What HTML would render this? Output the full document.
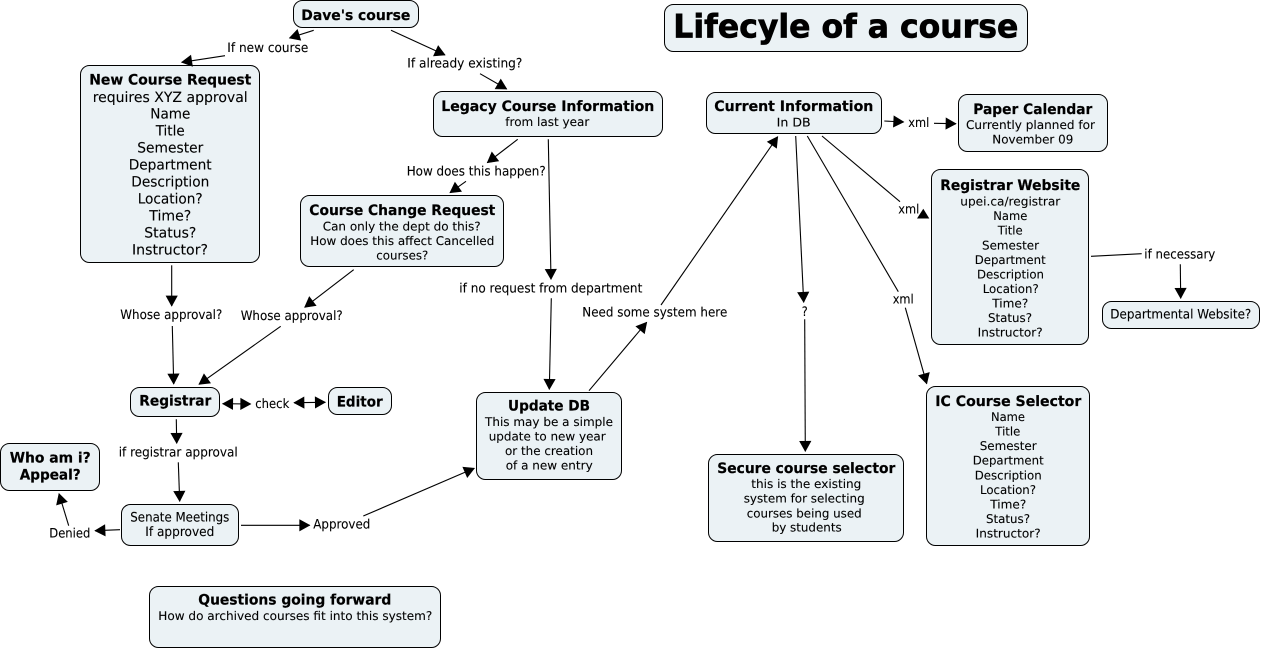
<!DOCTYPE html>
<html>
<head>
<meta charset="utf-8">
<title>Lifecyle of a course</title>
<style>
html,body{margin:0;padding:0;background:#fff;width:1262px;height:650px;overflow:hidden}
svg{display:block}
text{font-family:"DejaVu Sans","Liberation Sans",sans-serif;fill:#000;text-rendering:geometricPrecision}
.h{font-size:14.4px;font-weight:bold;fill:#000;stroke:#000;stroke-width:.2px}
.b{font-size:14.2px;stroke:#000;stroke-width:.1px}
.s{font-size:12px;stroke:#000;stroke-width:.1px}
.l{font-size:13px;stroke:#000;stroke-width:.1px}
rect{fill:#ebf2f5;stroke:#000;stroke-width:1}
line{stroke:#000;stroke-width:1.1;fill:none}
</style>
</head>
<body>
<svg width="1262" height="650" viewBox="0 0 1262 650" xmlns="http://www.w3.org/2000/svg">
<defs>
<marker id="a" markerUnits="userSpaceOnUse" markerWidth="14" markerHeight="14" refX="11" refY="6.5" orient="auto-start-reverse"><path d="M1 1L11 6.5L1 12Z" fill="#000" stroke="#000" stroke-width=".7" stroke-linejoin="miter"/></marker>
</defs>

<g>
<rect x="293.5" y="0.5" width="125" height="27" rx="9"/>
<rect x="80.5" y="65.5" width="179" height="197" rx="9"/>
<rect x="300.5" y="195.5" width="203" height="71" rx="9"/>
<rect x="433.5" y="91.5" width="229" height="45" rx="9"/>
<rect x="664.5" y="4.5" width="363" height="47" rx="9"/>
<rect x="706.5" y="92.5" width="175" height="41" rx="9"/>
<rect x="958.5" y="94.5" width="149" height="57" rx="9"/>
<rect x="931.5" y="169.5" width="157" height="175" rx="9"/>
<rect x="1102.5" y="301.5" width="157" height="27" rx="9"/>
<rect x="130.5" y="387.5" width="89" height="29" rx="9"/>
<rect x="328.5" y="387.5" width="63" height="27" rx="9"/>
<rect x="0.5" y="443.5" width="99" height="47" rx="9"/>
<rect x="121.5" y="504.5" width="117" height="41" rx="9"/>
<rect x="149.5" y="586.5" width="291" height="61" rx="9"/>
<rect x="476.5" y="392.5" width="145" height="87" rx="9"/>
<rect x="708.5" y="454.5" width="195" height="87" rx="9"/>
<rect x="926.5" y="386.5" width="163" height="159" rx="9"/>
</g>

<g marker-end="url(#a)">
<line x1="313.7" y1="30.3" x2="289.5" y2="38"/>
<line x1="225" y1="55.7" x2="181.7" y2="62.3"/>
<line x1="391" y1="30.3" x2="445" y2="55"/>
<line x1="480" y1="73.7" x2="506.7" y2="89"/>
<line x1="517.7" y1="139.3" x2="487.3" y2="162.7"/>
<line x1="466" y1="181.3" x2="450" y2="192.7"/>
<line x1="548.3" y1="139.3" x2="551" y2="279.3"/>
<line x1="551.3" y1="298.3" x2="549.3" y2="389.3"/>
<line x1="589" y1="390.7" x2="646.7" y2="322.3"/>
<line x1="661" y1="305" x2="777.7" y2="136.7"/>
<line x1="795.7" y1="136" x2="803.7" y2="302.3"/>
<line x1="804.7" y1="319.3" x2="805.3" y2="451.3"/>
<line x1="905.3" y1="307.7" x2="926.7" y2="383.7"/>
<line x1="884.3" y1="121" x2="903.7" y2="122"/>
<line x1="934" y1="123.3" x2="956" y2="123.7"/>
<line x1="1180.3" y1="264.3" x2="1180.7" y2="298.3"/>
<line x1="171.7" y1="265.3" x2="171.7" y2="306"/>
<line x1="172.3" y1="326" x2="173.7" y2="384"/>
<line x1="353.7" y1="269.7" x2="304.7" y2="307.3"/>
<line x1="280.7" y1="326.3" x2="199" y2="384.3"/>
<line x1="176.3" y1="419.3" x2="176.7" y2="443.3"/>
<line x1="178.3" y1="462.3" x2="179.7" y2="501.3"/>
<line x1="120" y1="529.7" x2="95" y2="530.7"/>
<line x1="68.7" y1="525.7" x2="59" y2="493.7"/>
<line x1="241" y1="525.3" x2="309.7" y2="525.3"/>
<line x1="363.3" y1="516" x2="474.3" y2="468.3"/>
</g>
<line x1="222.7" y1="403.7" x2="250.7" y2="404" marker-start="url(#a)" marker-end="url(#a)"/>
<line x1="294" y1="402.7" x2="325.3" y2="402.3" marker-start="url(#a)" marker-end="url(#a)"/>
<line x1="807.3" y1="136" x2="898.3" y2="291.7"/>
<line x1="822" y1="136" x2="900" y2="201.7"/>
<line x1="1091" y1="256.3" x2="1141.7" y2="253.7"/>
<polygon points="923.3,208.8 917,218.5 929.3,218.5" fill="#000"/>

<g>
<text class="h" x="301.3" y="20" textLength="109" lengthAdjust="spacingAndGlyphs">Dave's course</text>
<text class="l" x="227.3" y="52" textLength="81" lengthAdjust="spacingAndGlyphs">If new course</text>
<text class="l" x="407.3" y="67.5" textLength="115" lengthAdjust="spacingAndGlyphs">If already existing?</text>

<text class="h" x="89.3" y="84.5" textLength="162" lengthAdjust="spacingAndGlyphs">New Course Request</text>
<text class="b" x="92.7" y="102" textLength="155" lengthAdjust="spacingAndGlyphs">requires XYZ approval</text>
<text class="b" x="150.3" y="118.7" textLength="40" lengthAdjust="spacingAndGlyphs">Name</text>
<text class="b" x="155.7" y="135.7" textLength="29" lengthAdjust="spacingAndGlyphs">Title</text>
<text class="b" x="137.3" y="152.7" textLength="66" lengthAdjust="spacingAndGlyphs">Semester</text>
<text class="b" x="128.7" y="169.7" textLength="83" lengthAdjust="spacingAndGlyphs">Department</text>
<text class="b" x="131.3" y="186.7" textLength="78" lengthAdjust="spacingAndGlyphs">Description</text>
<text class="b" x="137.7" y="203.7" textLength="65" lengthAdjust="spacingAndGlyphs">Location?</text>
<text class="b" x="149.3" y="220.7" textLength="42" lengthAdjust="spacingAndGlyphs">Time?</text>
<text class="b" x="144.3" y="237.7" textLength="52" lengthAdjust="spacingAndGlyphs">Status?</text>
<text class="b" x="132" y="254.7" textLength="76" lengthAdjust="spacingAndGlyphs">Instructor?</text>

<text class="h" x="441.3" y="111" textLength="213" lengthAdjust="spacingAndGlyphs">Legacy Course Information</text>
<text class="s" x="505.3" y="126" textLength="84" lengthAdjust="spacingAndGlyphs">from last year</text>
<text class="l" x="406.7" y="175.5" textLength="139" lengthAdjust="spacingAndGlyphs">How does this happen?</text>

<text class="h" x="309.3" y="215" textLength="186" lengthAdjust="spacingAndGlyphs">Course Change Request</text>
<text class="s" x="322.7" y="230.3" textLength="158" lengthAdjust="spacingAndGlyphs">Can only the dept do this?</text>
<text class="s" x="310.3" y="245" textLength="184" lengthAdjust="spacingAndGlyphs">How does this affect Cancelled</text>
<text class="s" x="376.3" y="259.5" textLength="52" lengthAdjust="spacingAndGlyphs">courses?</text>

<text class="l" x="120.3" y="319" textLength="102" lengthAdjust="spacingAndGlyphs">Whose approval?</text>
<text class="l" x="240.7" y="320" textLength="102" lengthAdjust="spacingAndGlyphs">Whose approval?</text>

<text class="h" x="139.3" y="405.7" textLength="72" lengthAdjust="spacingAndGlyphs">Registrar</text>
<text class="h" x="336.7" y="406.7" textLength="46" lengthAdjust="spacingAndGlyphs">Editor</text>
<text class="l" x="255.3" y="408" textLength="34" lengthAdjust="spacingAndGlyphs">check</text>
<text class="l" x="118.7" y="456.5" textLength="119" lengthAdjust="spacingAndGlyphs">if registrar approval</text>
<text class="l" x="130.3" y="521.7" textLength="99" lengthAdjust="spacingAndGlyphs">Senate Meetings</text>
<text class="l" x="145.3" y="536" textLength="69" lengthAdjust="spacingAndGlyphs">If approved</text>
<text class="h" x="9.7" y="462.7" textLength="81" lengthAdjust="spacingAndGlyphs">Who am i?</text>
<text class="h" x="19.7" y="479.7" textLength="61" lengthAdjust="spacingAndGlyphs">Appeal?</text>
<text class="l" x="49.3" y="537.3" textLength="41" lengthAdjust="spacingAndGlyphs">Denied</text>
<text class="l" x="313.3" y="528.7" textLength="57" lengthAdjust="spacingAndGlyphs">Approved</text>

<text class="h" x="198.3" y="604.7" textLength="193" lengthAdjust="spacingAndGlyphs">Questions going forward</text>
<text class="s" x="158.3" y="620" textLength="274" lengthAdjust="spacingAndGlyphs">How do archived courses fit into this system?</text>

<text x="673.3" y="37.7" textLength="345" lengthAdjust="spacingAndGlyphs" style="font-size:32.5px;font-weight:bold;fill:#000;stroke:#000;stroke-width:.7px">Lifecyle of a course</text>

<text class="h" x="714.3" y="111" textLength="159" lengthAdjust="spacingAndGlyphs">Current Information</text>
<text class="s" x="776.7" y="126.3" textLength="34" lengthAdjust="spacingAndGlyphs">In DB</text>
<text class="l" x="459.3" y="292.3" textLength="183" lengthAdjust="spacingAndGlyphs">if no request from department</text>
<text class="l" x="582.3" y="316.7" textLength="145" lengthAdjust="spacingAndGlyphs">Need some system here</text>
<text class="l" x="801.7" y="316" textLength="6" lengthAdjust="spacingAndGlyphs">?</text>
<text class="l" x="908.3" y="127" textLength="21" lengthAdjust="spacingAndGlyphs">xml</text>

<text class="h" x="973.3" y="114" textLength="119" lengthAdjust="spacingAndGlyphs">Paper Calendar</text>
<text class="s" x="966" y="129" textLength="129" lengthAdjust="spacingAndGlyphs">Currently planned for</text>
<text class="s" x="992.3" y="143.3" textLength="81" lengthAdjust="spacingAndGlyphs">November 09</text>

<text class="h" x="940.3" y="190" textLength="140" lengthAdjust="spacingAndGlyphs">Registrar Website</text>
<text class="s" x="960.3" y="205.5" textLength="100" lengthAdjust="spacingAndGlyphs">upei.ca/registrar</text>
<text class="s" x="993.3" y="220" textLength="34" lengthAdjust="spacingAndGlyphs">Name</text>
<text class="s" x="997.7" y="234.7" textLength="25" lengthAdjust="spacingAndGlyphs">Title</text>
<text class="s" x="982" y="249.3" textLength="57" lengthAdjust="spacingAndGlyphs">Semester</text>
<text class="s" x="974.7" y="264" textLength="71" lengthAdjust="spacingAndGlyphs">Department</text>
<text class="s" x="977" y="278.7" textLength="67" lengthAdjust="spacingAndGlyphs">Description</text>
<text class="s" x="982.7" y="293" textLength="56" lengthAdjust="spacingAndGlyphs">Location?</text>
<text class="s" x="992.3" y="307.7" textLength="36" lengthAdjust="spacingAndGlyphs">Time?</text>
<text class="s" x="988" y="322" textLength="44" lengthAdjust="spacingAndGlyphs">Status?</text>
<text class="s" x="977.7" y="336.7" textLength="65" lengthAdjust="spacingAndGlyphs">Instructor?</text>

<text class="l" x="898.3" y="213.3" textLength="21" lengthAdjust="spacingAndGlyphs">xml</text>
<text class="l" x="892.7" y="303.3" textLength="21" lengthAdjust="spacingAndGlyphs">xml</text>
<text class="l" x="1144.3" y="258.3" textLength="71" lengthAdjust="spacingAndGlyphs">if necessary</text>
<text class="l" x="1110.3" y="318.3" textLength="141" lengthAdjust="spacingAndGlyphs">Departmental Website?</text>

<text class="h" x="508" y="410.7" textLength="82" lengthAdjust="spacingAndGlyphs">Update DB</text>
<text class="s" x="485" y="426" textLength="128" lengthAdjust="spacingAndGlyphs">This may be a simple</text>
<text class="s" x="488.7" y="440.7" textLength="117" lengthAdjust="spacingAndGlyphs">update to new year</text>
<text class="s" x="505" y="455" textLength="88" lengthAdjust="spacingAndGlyphs">or the creation</text>
<text class="s" x="505.7" y="469.7" textLength="87" lengthAdjust="spacingAndGlyphs">of a new entry</text>

<text class="h" x="717.3" y="473" textLength="178" lengthAdjust="spacingAndGlyphs">Secure course selector</text>
<text class="s" x="751.3" y="488" textLength="110" lengthAdjust="spacingAndGlyphs">this is the existing</text>
<text class="s" x="743.7" y="502.7" textLength="121" lengthAdjust="spacingAndGlyphs">system for selecting</text>
<text class="s" x="746.7" y="517.3" textLength="115" lengthAdjust="spacingAndGlyphs">courses being used</text>
<text class="s" x="771.7" y="531.7" textLength="70" lengthAdjust="spacingAndGlyphs">by students</text>

<text class="h" x="935.3" y="406" textLength="146" lengthAdjust="spacingAndGlyphs">IC Course Selector</text>
<text class="s" x="991" y="421" textLength="34" lengthAdjust="spacingAndGlyphs">Name</text>
<text class="s" x="995.3" y="435.3" textLength="25" lengthAdjust="spacingAndGlyphs">Title</text>
<text class="s" x="979.7" y="450" textLength="57" lengthAdjust="spacingAndGlyphs">Semester</text>
<text class="s" x="972.7" y="464.7" textLength="71" lengthAdjust="spacingAndGlyphs">Department</text>
<text class="s" x="974.7" y="479.3" textLength="67" lengthAdjust="spacingAndGlyphs">Description</text>
<text class="s" x="980" y="494" textLength="56" lengthAdjust="spacingAndGlyphs">Location?</text>
<text class="s" x="990.3" y="508.7" textLength="36" lengthAdjust="spacingAndGlyphs">Time?</text>
<text class="s" x="986" y="523" textLength="44" lengthAdjust="spacingAndGlyphs">Status?</text>
<text class="s" x="975.7" y="537.7" textLength="65" lengthAdjust="spacingAndGlyphs">Instructor?</text>
</g>
</svg>
</body>
</html>
